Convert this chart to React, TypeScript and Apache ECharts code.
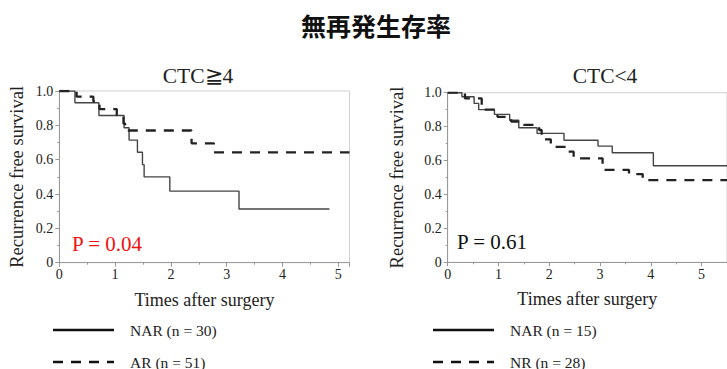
import React, { useEffect, useRef } from "react";
import * as echarts from "echarts";

const mainTitle = "無再発生存率";
const panelTitles = ["CTC≧4", "CTC<4"];
const pValues = ["P = 0.04", "P = 0.61"];
const xTickMax = [5.2, 5.5];

const leftNarTime = [0, 0.28, 0.71, 1.16, 1.25, 1.4, 1.49, 1.52, 1.98, 3.22, 4.84];
const leftNarSurv = [1, 0.932, 0.857, 0.786, 0.714, 0.643, 0.571, 0.5, 0.417, 0.313, 0.313];

const leftArTime = [0, 0.31, 0.61, 0.72, 1.03, 1.15, 1.18, 1.22, 2.37, 2.77, 5.2];
const leftArSurv = [1, 0.967, 0.94, 0.895, 0.86, 0.81, 0.78, 0.77, 0.695, 0.643, 0.643];

const rightNarTime = [0, 0.28, 0.52, 0.61, 0.92, 1.22, 1.4, 1.76, 2.29, 2.96, 3.24, 4.05, 5.5];
const rightNarSurv = [1, 0.976, 0.937, 0.9, 0.872, 0.838, 0.793, 0.76, 0.72, 0.685, 0.646, 0.569, 0.569];

const rightNrTime = [0, 0.34, 0.67, 0.98, 1.25, 1.5, 1.8, 1.85, 2.03, 2.33, 2.48, 3.05, 3.57, 3.84, 5.5];
const rightNrSurv = [1, 0.966, 0.9, 0.858, 0.83, 0.81, 0.78, 0.725, 0.681, 0.652, 0.613, 0.545, 0.52, 0.485, 0.485];

const legendLeft = ["NAR (n = 30)", "AR (n = 51)"];
const legendRight = ["NAR (n = 15)", "NR (n = 28)"];

const serif = "'Liberation Serif', 'DejaVu Serif', serif";

const zip = (t: number[], s: number[]) => t.map((v, i) => [v, s[i]]);

const SOLID = { color: "#444", width: 1.4 };
const DASHED = { color: "#222", width: 2.3, dash: [10, 8] };

export default function App() {
  const ref = useRef<HTMLDivElement>(null);
  useEffect(() => {
    if (!ref.current) return;
    const chart = echarts.init(ref.current, null, { renderer: "svg" });
    const grids = [
      { left: 59.3, top: 91, width: 290.2, height: 171.7, show: true, borderColor: "#d0d0d0", borderWidth: 1 },
      { left: 447.7, top: 92.7, width: 304.6, height: 169.6, show: true, borderColor: "#d0d0d0", borderWidth: 1 },
    ];
    const xAxes = [0, 1].map((i) => ({
      type: "value",
      gridIndex: i,
      min: 0,
      max: xTickMax[i],
      interval: 1,
      name: "Times after surgery",
      nameLocation: "middle",
      nameGap: 28,
      nameTextStyle: { fontFamily: serif, fontSize: 18, color: "#222" },
      axisLine: { show: true, lineStyle: { color: "#999" } },
      axisTick: { show: true, length: 4, lineStyle: { color: "#999" } },
      minorTick: { show: true, splitNumber: 2, length: 2, lineStyle: { color: "#999" } },
      splitLine: { show: false },
      axisLabel: { fontFamily: serif, fontSize: 14, color: "#222", margin: 5, showMaxLabel: false },
    }));
    const yAxes = [0, 1].map((i) => ({
      type: "value",
      gridIndex: i,
      min: 0,
      max: 1,
      interval: 0.2,
      name: "Recurrence free survival",
      nameLocation: "middle",
      nameGap: i === 0 ? 33 : 41,
      nameTextStyle: { fontFamily: serif, fontSize: 18.5, color: "#222" },
      axisLine: { show: true, lineStyle: { color: "#999" } },
      axisTick: { show: true, length: 4, lineStyle: { color: "#999" } },
      minorTick: { show: true, splitNumber: 2, length: 2, lineStyle: { color: "#999" } },
      splitLine: { show: false },
      axisLabel: {
        fontFamily: serif,
        fontSize: 14,
        color: "#222",
        margin: 6,
        formatter: (v: number) => (v === 0 ? "0" : v.toFixed(1)),
      },
    }));
    const mk = (name: string, idx: number, data: number[][], st: any) => ({
      type: "line",
      name,
      xAxisIndex: idx,
      yAxisIndex: idx,
      step: "end",
      data,
      symbol: "none",
      showSymbol: false,
      lineStyle: { color: st.color, width: st.width, type: st.dash ? st.dash : "solid" },
      itemStyle: { color: st.color },
      silent: true,
    });
    const legendItems = (x: number, names: string[]) =>
      names.flatMap((n, i) => {
        const st: any = i === 0 ? SOLID : DASHED;
        const y = 330 + i * 32;
        return [
          {
            type: "line",
            shape: { x1: x, y1: y, x2: x + 61, y2: y },
            style: { stroke: "#111", lineWidth: 2.6, lineDash: st.dash ? st.dash : null },
          },
          {
            type: "text",
            x: x + 77,
            y,
            style: { text: n, fontFamily: serif, fontSize: 15.5, fill: "#222", verticalAlign: "middle" },
          },
        ];
      });
    chart.setOption({
      animation: false,
      backgroundColor: "#fff",
      title: [
        {
          text: mainTitle,
          left: 371,
          textAlign: "center",
          top: 7,
          textStyle: { fontFamily: "'Noto Sans CJK JP', sans-serif", fontSize: 25, fontWeight: "bold", color: "#111" },
        },
        {
          text: panelTitles[0],
          left: 193,
          textAlign: "center",
          top: 60,
          textStyle: { fontFamily: serif, fontSize: 21.5, fontWeight: "normal", color: "#222" },
        },
        {
          text: panelTitles[1],
          left: 600,
          textAlign: "center",
          top: 60,
          textStyle: { fontFamily: serif, fontSize: 21.5, fontWeight: "normal", color: "#222" },
        },
      ],
      grid: grids,
      xAxis: xAxes,
      yAxis: yAxes,
      series: [
        mk(legendLeft[0], 0, zip(leftNarTime, leftNarSurv), SOLID),
        mk(legendLeft[1], 0, zip(leftArTime, leftArSurv), DASHED),
        mk(legendRight[0], 1, zip(rightNarTime, rightNarSurv), SOLID),
        mk(legendRight[1], 1, zip(rightNrTime, rightNrSurv), DASHED),
      ],
      graphic: [
        {
          type: "text",
          left: 72,
          top: 233,
          style: { text: pValues[0], fontFamily: serif, fontSize: 21, fill: "#f01010" },
        },
        {
          type: "text",
          left: 457,
          top: 231,
          style: { text: pValues[1], fontFamily: serif, fontSize: 21, fill: "#111" },
        },
        ...legendItems(53, legendLeft),
        ...legendItems(433, legendRight),
      ],
    });
    return () => chart.dispose();
  }, []);
  return (
    <div
      ref={ref}
      style={{ position: "fixed", left: 0, top: 0, width: 727, height: 369, background: "#fff" }}
    />
  );
}
